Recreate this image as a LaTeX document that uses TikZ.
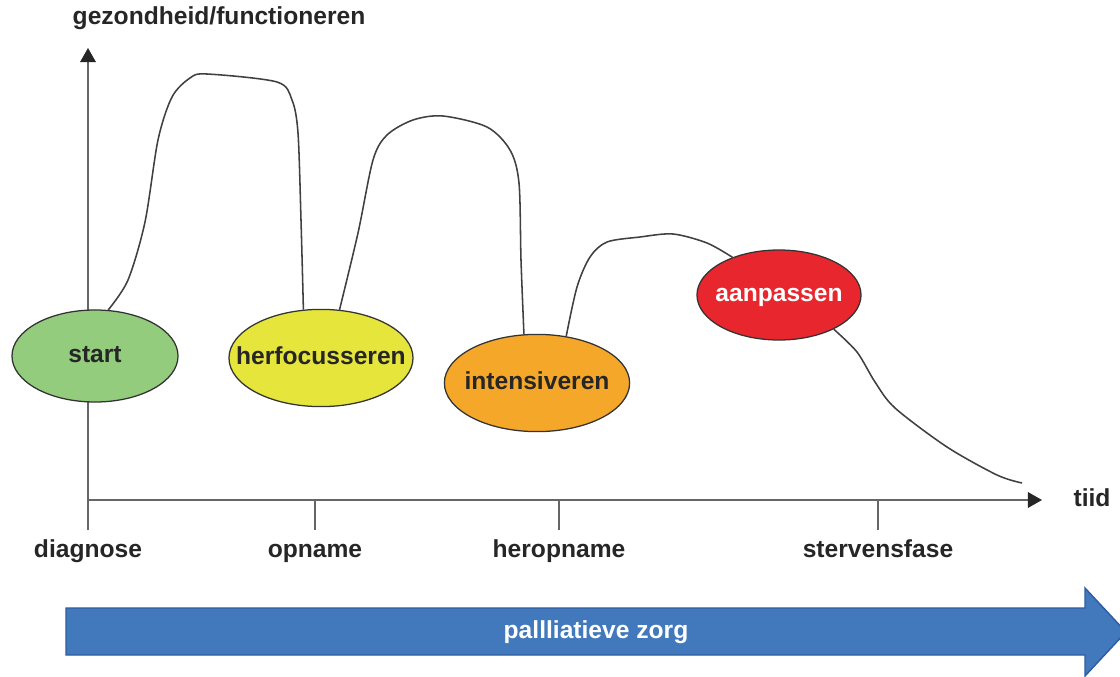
\documentclass[tikz,border=0pt]{standalone}
\usepackage{fontspec}
\setmainfont{Liberation Sans}
\usetikzlibrary{shapes.geometric,arrows.meta}
\definecolor{Cstart}{RGB}{146,204,124}
\definecolor{Cherf}{RGB}{229,229,60}
\definecolor{Cint}{RGB}{245,167,42}
\definecolor{Caan}{RGB}{232,38,45}
\definecolor{Czorg}{RGB}{66,121,188}
\definecolor{Czorgrand}{RGB}{45,92,160}
\tikzset{
  lbl/.style={font=\fontsize{17.5}{21}\selectfont\bfseries, text=black!85, inner sep=0pt,
    text height=12.5pt, text depth=3.5pt},
  phase/.style={ellipse, draw=black!80, line width=0.9pt, inner sep=0pt},
  axis/.style={draw=black!60, line width=1.3pt},
  curve/.style={draw=black!75, line width=1.1pt},
  tip/.style={-{Triangle[length=10pt,width=11pt,color=black!85]}},
}

\begin{document}
\begin{tikzpicture}[x=0.025cm,y=-0.025cm]
                \clip (0,0) rectangle (1120,677);
                \fill[white] (0,0) rectangle (1120,677);

                % assen
                \coordinate (origin) at (88,500);
                \coordinate (ytop) at (88,48);
                \coordinate (xend) at (1042,500);
                \coordinate (ybottom) at (88,530);
                \draw[axis,tip] (ybottom) -- (ytop);
                \draw[axis,tip] (origin) -- (xend);
                \node[lbl] (yas) at (219,18) {gezondheid/functioneren};
                \node[lbl] (tiid) at (1092,500) {tiid};

                % tijdstippen
                \node[lbl] (diagnose) at (88,551) {diagnose};
                \node[lbl] (opname) at (315,551) {opname};
                \node[lbl] (heropname) at (559,551) {heropname};
                \node[lbl] (sterven) at (878,551) {stervensfase};
                \foreach \tx in {315,559,878}
                    \draw[axis] (\tx,500) -- (\tx,530);

                % fasen
                \node[phase, fill=Cstart, minimum width=4.15cm, minimum height=2.3cm,
                    label={[lbl]center:start}] (start) at (95,356) {};
                \node[phase, fill=Cherf, minimum width=4.6cm, minimum height=2.43cm,
                    label={[lbl]center:herfocusseren}] (herf) at (321,358) {};
                \node[phase, fill=Cint, minimum width=4.63cm, minimum height=2.43cm,
                    label={[lbl]center:intensiveren}] (int) at (537,383) {};
                \node[phase, fill=Caan, minimum width=4.1cm, minimum height=2.25cm,
                    label={[lbl,text=white]center:aanpassen}] (aan) at (779,295) {};

                % verloop
                \draw[curve] plot[smooth,tension=0.5] coordinates {(start.74) (128,280) (145,222)
                    (158,140) (172,97) (190,78) (207,74) (277,82) (292,100) (298,133) (301,220) (herf.110)};
                \draw[curve] plot[smooth,tension=0.5] coordinates {(herf.69) (358,233) (373,160)
                    (387,135) (413,120) (443,116) (487,127) (510,150) (519,183) (521,260) (int.105)};
                \draw[curve] plot[smooth,tension=0.5] coordinates {(int.58) (577,287) (590,257)
                    (607,242) (640,237) (673,234) (707,243) (aan.141)};
                \draw[curve] plot[smooth,tension=0.5] coordinates {(aan.328) (857,352) (875,382)
                    (895,408) (947,447) (997,475) (1022,483)};

                % palliatieve zorg
                \filldraw[fill=Czorg, draw=Czorgrand, line width=1pt] (66,608) -- (1085,608) -- (1085,588)
                    -- (1126,632) -- (1085,676) -- (1085,655) -- (66,655) -- cycle;
                \node[lbl, text=white] (zorg) at (596,632) {pallliatieve zorg};
            \end{tikzpicture}
\end{document}
